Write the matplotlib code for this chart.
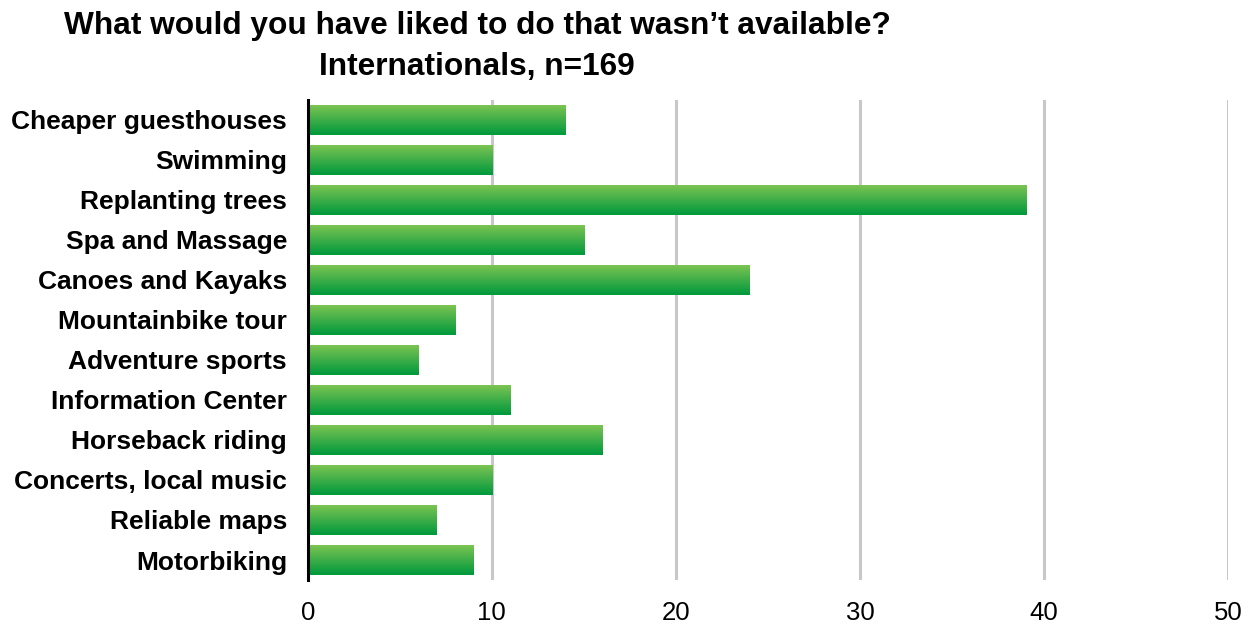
import matplotlib
matplotlib.use("Agg")
import matplotlib.pyplot as plt
import numpy as np
from matplotlib.colors import LinearSegmentedColormap

categories = ["Cheaper guesthouses", "Swimming", "Replanting trees", "Spa and Massage",
              "Canoes and Kayaks", "Mountainbike tour", "Adventure sports",
              "Information Center", "Horseback riding", "Concerts, local music",
              "Reliable maps", "Motorbiking"]
values = [14, 10, 39, 15, 24, 8, 6, 11, 16, 10, 7, 9]
xticks = [0, 10, 20, 30, 40, 50]
title = "What would you have liked to do that wasn\u2019t available?\nInternationals, n=169"

plt.rcParams['font.family'] = ['Liberation Sans', 'DejaVu Sans']

fig = plt.figure(figsize=(12.56, 6.28), dpi=100)
ax = fig.add_axes([0.245, 0.0764, 0.733, 0.765])

n = len(categories)
pos = np.arange(n)[::-1]
bars = ax.barh(pos, values, height=0.75, color='none', edgecolor='none', zorder=3)

cmap = LinearSegmentedColormap.from_list("g", ["#80C653", "#3FAE48", "#009A3D"])
grad = np.linspace(0, 1, 64).reshape(-1, 1)
for b in bars:
    x0, y0 = b.get_x(), b.get_y()
    w, h = b.get_width(), b.get_height()
    im = ax.imshow(grad, cmap=cmap, aspect='auto', origin='upper',
                   extent=[x0, x0 + w, y0, y0 + h], zorder=3, interpolation='bilinear')
    im.set_clip_path(b)

ax.set_xlim(0, 50)
ax.set_ylim(-0.5, n - 0.5)
ax.set_xticks(xticks)
ax.set_xticklabels([str(t) for t in xticks], fontsize=18.5)
ax.set_yticks(pos)
ax.set_yticklabels(categories, fontsize=19, fontweight='bold')
ax.tick_params(axis='both', length=0)
ax.tick_params(axis='x', pad=15)
ax.tick_params(axis='y', pad=15)
ax.grid(axis='x', color='#C8C8C8', linewidth=2.2, zorder=1)
ax.set_axisbelow(True)
for s in ['top', 'right', 'bottom']:
    ax.spines[s].set_visible(False)
ax.spines['left'].set_linewidth(2.2)
ax.spines['left'].set_zorder(4)

fig.text(0.38, 0.983, title, ha='center', va='top', fontsize=22.8, fontweight='bold',
         linespacing=1.48)

fig.savefig("out.png", dpi=100)
